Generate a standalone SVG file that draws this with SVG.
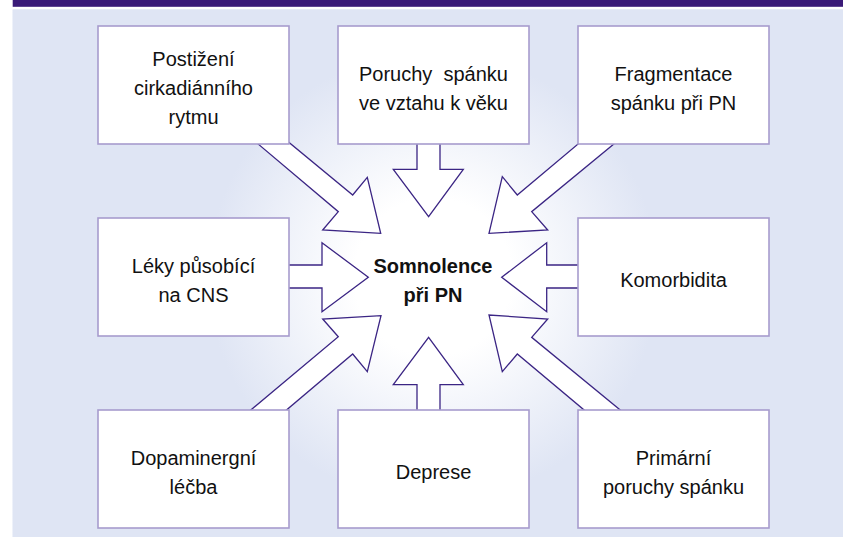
<svg xmlns="http://www.w3.org/2000/svg" width="843" height="537" viewBox="0 0 843 537">
<defs>
<radialGradient id="glow" cx="433" cy="277" r="225" gradientUnits="userSpaceOnUse">
<stop offset="0" stop-color="#ffffff"/>
<stop offset="0.35" stop-color="#ffffff"/>
<stop offset="1" stop-color="#dfe5f4"/>
</radialGradient>
<style>
.box{fill:#ffffff;stroke:#a79cce;stroke-width:1.6}
.arr{fill:#ffffff;stroke:#3b2584;stroke-width:1.3;stroke-linejoin:miter}
.t{font-family:"Liberation Sans",Arial,sans-serif;font-size:20px;fill:#111111;text-anchor:middle}
.c{font-weight:bold}
</style>
</defs>
<rect x="0" y="0" width="843" height="537" fill="#ffffff"/>
<rect x="12.7" y="0" width="830.3" height="6.8" fill="#3a1a78"/>
<rect x="12.7" y="9.5" width="830.3" height="527.5" fill="#dfe5f4"/>
<rect x="12.7" y="9.5" width="830.3" height="527.5" fill="url(#glow)"/>
<g id="connectors">
<polygon class="arr" points="417,134 417,169.3 393.3,169.3 428.6,216.7 463.3,169.3 440,169.3 440,134"/>
<polygon class="arr" points="417,420 417,384.7 393.3,384.7 428.6,337.3 463.3,384.7 440,384.7 440,420"/>
<polygon class="arr" points="279,265 322,265 322,242.7 368.3,277.3 322,311.7 322,288 279,288"/>
<polygon class="arr" points="588,265 546.7,265 546.7,242.7 501.7,277.3 546.7,311.7 546.7,288 588,288"/>
<polygon class="arr" points="246.3,134 338.3,211.7 322.7,230 380.7,233.3 367.3,177.3 352.7,195 277.2,132.7"/>
<polygon class="arr" points="624.8,135 531.7,211.7 547.7,230 489,233.3 502.3,176.7 517.3,195 589.6,134.3"/>
<polygon class="arr" points="239.8,419.3 338.3,336.7 322.7,319 381,315.7 367.3,371.7 352.7,354 275.5,419.3"/>
<polygon class="arr" points="631.5,419.3 531.7,337.3 547.7,319 489,315 502.3,371.7 517.3,354 595.2,419.3"/>
</g>
<g id="center">
<text class="t c" x="433" y="272.5">Somnolence</text>
<text class="t c" x="433" y="301.5">při PN</text>
</g>
<g id="node-cirkadianni">
<rect class="box" x="98" y="26" width="191" height="118"/>
<text class="t" x="193.5" y="66">Postižení</text>
<text class="t" x="193.5" y="95">cirkadiánního</text>
<text class="t" x="193.5" y="124">rytmu</text>
</g>
<g id="node-vek">
<rect class="box" x="338" y="26" width="191" height="118"/>
<text class="t" x="433.5" y="80.5" xml:space="preserve">Poruchy  spánku</text>
<text class="t" x="433.5" y="109.5">ve vztahu k věku</text>
</g>
<g id="node-fragmentace">
<rect class="box" x="578" y="26" width="191" height="118"/>
<text class="t" x="673.5" y="80.5">Fragmentace</text>
<text class="t" x="673.5" y="109.5">spánku při PN</text>
</g>
<g id="node-leky">
<rect class="box" x="98" y="218" width="191" height="118"/>
<text class="t" x="193.5" y="272.5">Léky působící</text>
<text class="t" x="193.5" y="301.5">na CNS</text>
</g>
<g id="node-komorbidita">
<rect class="box" x="578" y="218" width="191" height="118"/>
<text class="t" x="673.5" y="287">Komorbidita</text>
</g>
<g id="node-dopaminergni">
<rect class="box" x="98" y="410" width="191" height="118"/>
<text class="t" x="193.5" y="464.5">Dopaminergní</text>
<text class="t" x="193.5" y="493.5">léčba</text>
</g>
<g id="node-deprese">
<rect class="box" x="338" y="410" width="191" height="118"/>
<text class="t" x="433.5" y="479">Deprese</text>
</g>
<g id="node-primarni">
<rect class="box" x="578" y="410" width="191" height="118"/>
<text class="t" x="673.5" y="464.5">Primární</text>
<text class="t" x="673.5" y="493.5">poruchy spánku</text>
</g>
</svg>
